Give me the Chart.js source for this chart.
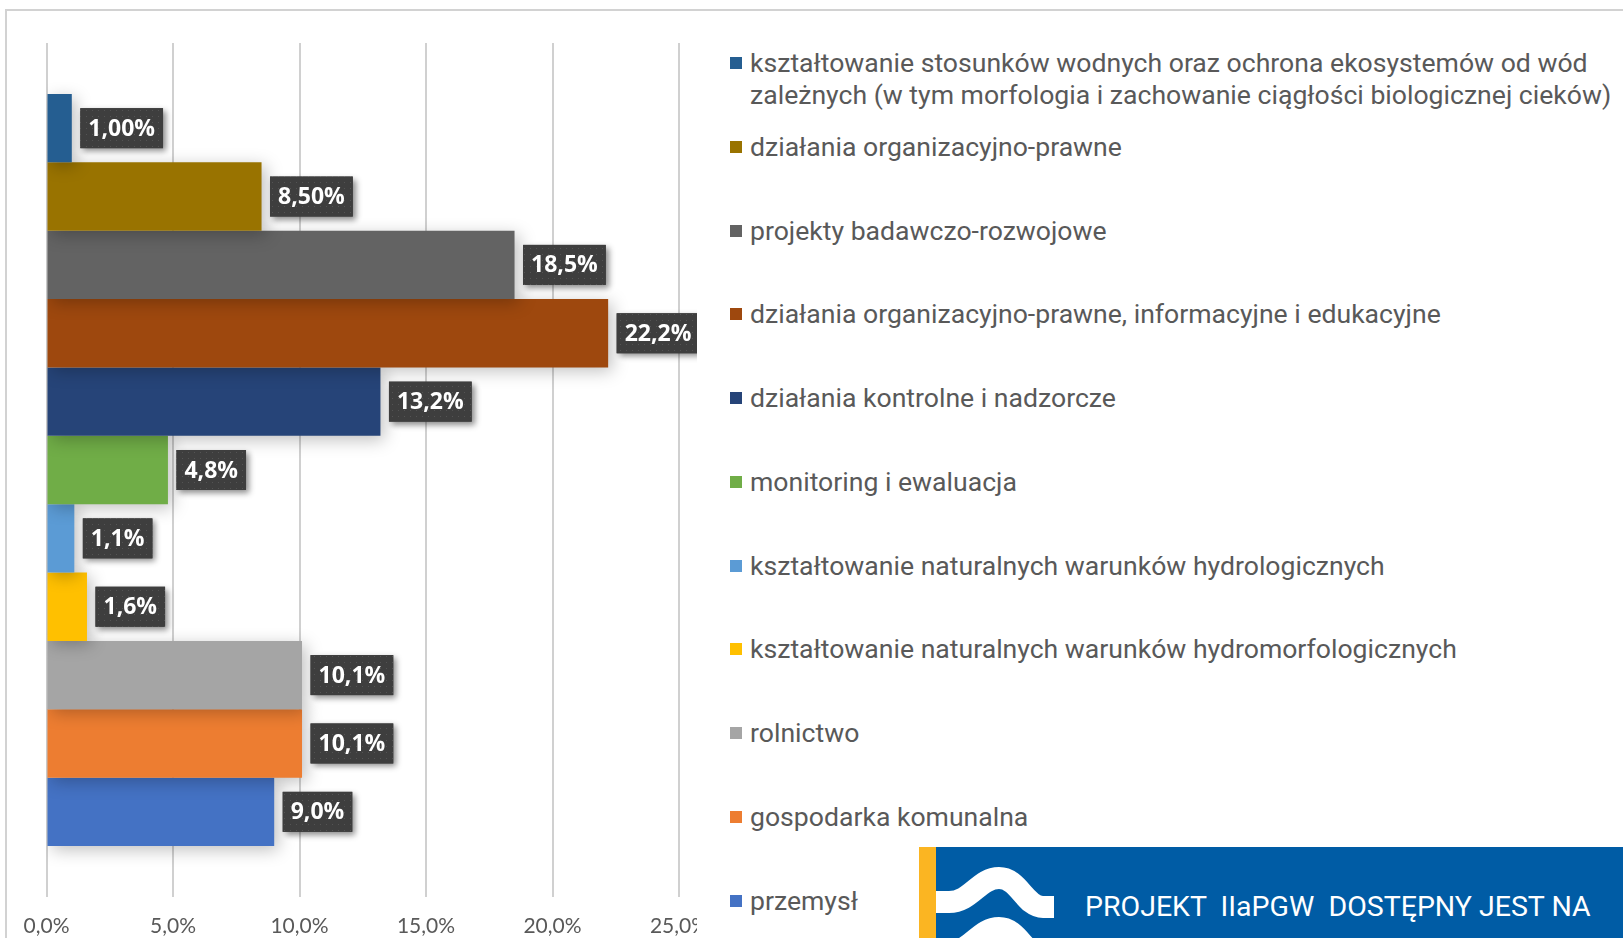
<!DOCTYPE html>
<html>
<head>
<meta charset="utf-8">
<script src="https://cdn.jsdelivr.net/npm/chart.js@4.4.1/dist/chart.umd.min.js"></script>
<style>
html,body{margin:0;padding:0;background:#fff;width:1623px;height:938px;overflow:hidden;}
#frame{position:absolute;left:5px;top:9px;width:1700px;height:1000px;border-left:2px solid #d2d2d2;border-top:2px solid #d2d2d2;}
#chartClip{position:absolute;left:0;top:0;width:697px;height:938px;overflow:hidden;}
#chartClip canvas{position:absolute;left:0;top:0;}
.item{position:absolute;left:730px;font-family:Roboto,sans-serif;font-size:26.6px;color:#595959;line-height:32px;}
.item .sw{position:absolute;left:0;top:10px;width:12px;height:12px;}
.item .tx{position:absolute;left:20px;top:0;width:872px;white-space:normal;}
#banner{position:absolute;left:919px;top:847px;width:704px;height:91px;background:#005ca5;overflow:hidden;}
#banner .stripe{position:absolute;left:0;top:0;width:17px;height:91px;background:#fbb522;}
#banner svg{position:absolute;left:0;top:0;}
#bannerText{position:absolute;left:166px;top:60px;font-family:Roboto,sans-serif;font-size:28px;line-height:36px;color:#fff;white-space:pre;transform-origin:0 50%;}
</style>
</head>
<body>
<div id="frame"></div>
<div id="chartClip"><canvas id="c" width="760" height="938"></canvas></div>
<div id="legend"></div>
<div id="banner">
  <div class="stripe"></div>
  <svg width="704" height="91" viewBox="0 0 704 91">
    <path d="M17,55 L30,55 C52,55 60,31 80,31 C100,31 106,60 124,60 L135,60" fill="none" stroke="#fff" stroke-width="22"/>
    <path d="M17,105 L30,105 C52,105 60,81 80,81 C100,81 106,110 124,110 L135,110" fill="none" stroke="#fff" stroke-width="22"/>
  </svg>
  <div id="bannerText">PROJEKT  IIaPGW  DOSTĘPNY JEST NA</div>
</div>
<script>
const categories = [
  "kształtowanie stosunków wodnych oraz ochrona ekosystemów od wód zależnych (w tym morfologia i zachowanie ciągłości biologicznej cieków)",
  "działania organizacyjno-prawne",
  "projekty badawczo-rozwojowe",
  "działania organizacyjno-prawne, informacyjne i edukacyjne",
  "działania kontrolne i nadzorcze",
  "monitoring i ewaluacja",
  "kształtowanie naturalnych warunków hydrologicznych",
  "kształtowanie naturalnych warunków hydromorfologicznych",
  "rolnictwo",
  "gospodarka komunalna",
  "przemysł"
];
const values = [1.0, 8.5, 18.5, 22.2, 13.2, 4.8, 1.1, 1.6, 10.1, 10.1, 9.0];
const valueLabels = ["1,00%", "8,50%", "18,5%", "22,2%", "13,2%", "4,8%", "1,1%", "1,6%", "10,1%", "10,1%", "9,0%"];
const xTickValues = [0, 5, 10, 15, 20, 25];
const xTickLabels = ["0,0%", "5,0%", "10,0%", "15,0%", "20,0%", "25,0%"];
const colors = ["#255E91", "#997300", "#636363", "#9E480E", "#264478", "#70AD47", "#5B9BD5", "#FFC000", "#A5A5A5", "#ED7D31", "#4472C4"];

// legend (HTML)
const legend = document.getElementById('legend');
categories.forEach((cat, i) => {
  const it = document.createElement('div');
  it.className = 'item';
  it.style.top = (63.1 + i * 83.74 - 16) + 'px';
  const sw = document.createElement('div');
  sw.className = 'sw';
  sw.style.background = colors[i];
  const tx = document.createElement('div');
  tx.className = 'tx';
  tx.textContent = cat;
  it.appendChild(sw); it.appendChild(tx);
  legend.appendChild(it);
});

// banner text width fit
const bt = document.getElementById('bannerText');
bt.style.transform = 'translateY(-50%) scaleX(' + (506 / bt.offsetWidth) + ')';

// dotted pattern for label boxes
const pc = document.createElement('canvas');
pc.width = 6; pc.height = 6;
const pctx = pc.getContext('2d');
pctx.fillStyle = '#3e3e3e'; pctx.fillRect(0, 0, 6, 6);
pctx.fillStyle = '#545454'; pctx.fillRect(2, 2, 1, 1);

const shadowPlugin = {
  id: 'barShadow',
  beforeDatasetsDraw(chart) {
    const c = chart.ctx;
    c.save();
    c.shadowColor = 'rgba(0,0,0,0.25)';
    c.shadowBlur = 16;
    c.shadowOffsetX = 4;
    c.shadowOffsetY = 4;
  },
  afterDatasetsDraw(chart) {
    chart.ctx.restore();
  }
};

const labelPlugin = {
  id: 'valueLabels',
  afterDatasetsDraw(chart) {
    const ctx = chart.ctx;
    const pattern = ctx.createPattern(pc, 'repeat');
    ctx.save();
    ctx.font = 'bold 23px "Open Sans"';
    chart.data.datasets.forEach((ds, i) => {
      const el = chart.getDatasetMeta(i).data[0];
      const txt = valueLabels[i];
      const w = ctx.measureText(txt).width + 16;
      const h = 40;
      const x = el.x + 8.5, y = el.y - h / 2;
      ctx.save();
      ctx.shadowColor = 'rgba(0,0,0,0.45)';
      ctx.shadowBlur = 6;
      ctx.shadowOffsetX = 3;
      ctx.shadowOffsetY = 3;
      ctx.fillStyle = '#3e3e3e';
      ctx.fillRect(x, y, w, h);
      ctx.restore();
      ctx.fillStyle = pattern;
      ctx.fillRect(x, y, w, h);
      ctx.fillStyle = '#ffffff';
      ctx.textAlign = 'center';
      ctx.textBaseline = 'middle';
      ctx.fillText(txt, x + w / 2, el.y + 1);
    });
    ctx.restore();
  }
};

new Chart(document.getElementById('c'), {
  type: 'bar',
  data: {
    labels: [''],
    datasets: categories.map((cat, i) => ({
      label: cat,
      data: [values[i]],
      backgroundColor: colors[i],
      borderWidth: 0,
      categoryPercentage: 0.8806,
      barPercentage: 1
    }))
  },
  options: {
    indexAxis: 'y',
    responsive: false,
    animation: false,
    devicePixelRatio: 1,
    layout: { padding: { left: 46.5, top: 43, right: 81, bottom: 0 } },
    plugins: { legend: { display: false }, tooltip: { enabled: false } },
    scales: {
      y: { display: false },
      x: {
        min: 0, max: 25,
        ticks: {
          stepSize: 5, padding: 17, color: '#595959',
          font: { family: 'Lato', size: 21 },
          callback: (v) => { const k = xTickValues.indexOf(v); return k >= 0 ? xTickLabels[k] : ''; }
        },
        grid: { color: '#D0D0D0', lineWidth: 2, drawTicks: false },
        border: { display: false },
        afterFit: (s) => { s.height = 41; }
      }
    }
  },
  plugins: [shadowPlugin, labelPlugin]
});
</script>
</body>
</html>
